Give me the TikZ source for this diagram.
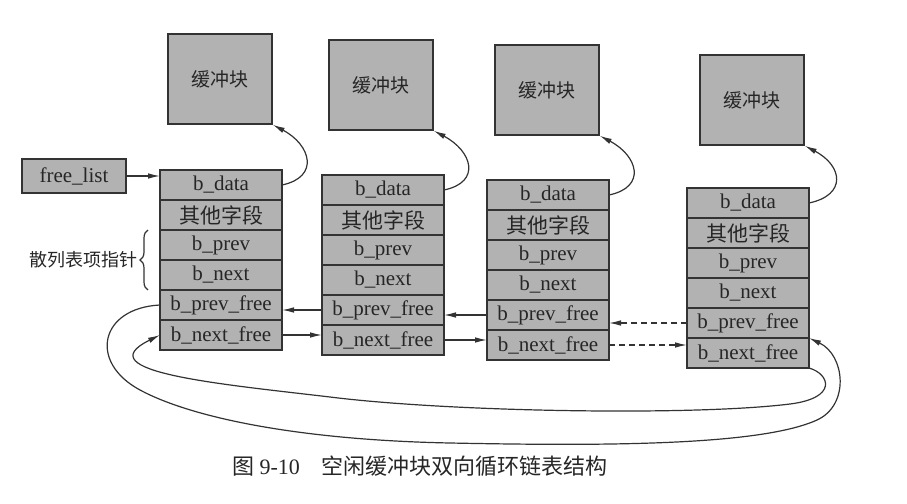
\documentclass[tikz,border=0pt]{standalone}
\usepackage{fontspec}
\setmainfont{Liberation Serif}
\newfontfamily\cjk{Noto Sans CJK SC}
\usetikzlibrary{positioning,arrows.meta,decorations.pathreplacing}

\begin{document}
\begin{tikzpicture}[x=0.5pt,y=-0.5pt,>={Latex[length=6pt,width=2.8pt]},
    line width=0.6pt,draw=black!80,text=black!85,
    field/.style={rectangle,draw,fill=black!30,line width=0.8pt,minimum width=61pt,
      minimum height=15pt,inner sep=0pt,outer sep=0pt,font=\fontsize{10.5}{12}\selectfont},
    buffer/.style={rectangle,draw,fill=black!30,line width=0.8pt,minimum width=52pt,
      minimum height=45pt,font=\cjk\fontsize{9.5}{11}\selectfont},
    listhead/.style={rectangle,draw,fill=black!30,line width=0.8pt,minimum width=52pt,
      minimum height=17pt,inner sep=0pt,font=\fontsize{10.5}{12}\selectfont}]

\useasboundingbox (0,0) rectangle (907,504);

% buffer blocks
\foreach \n/\x/\y in {1/220/79,2/381/85,3/547/90,4/752/100}
  \node[buffer] (buf\n) at (\x,\y) {缓冲块};

% buffer headers
\foreach \n/\x/\y in {1/160/170,2/322/175,3/487/180,4/687/188} {
  \node[field,anchor=north west] (data\n) at (\x,\y) {b\_data};
  \node[field,below=0pt of data\n] (other\n) {\cjk 其他字段};
  \node[field,below=0pt of other\n] (prev\n) {b\_prev};
  \node[field,below=0pt of prev\n] (next\n) {b\_next};
  \node[field,below=0pt of next\n] (pfree\n) {b\_prev\_free};
  \node[field,below=0pt of pfree\n] (nfree\n) {b\_next\_free};
  \draw[->] (data\n.east) .. controls +(38,-8) and +(38,20) .. (buf\n.south east);
}

\node[listhead] (freelist) at (74,176) {free\_list};
\draw[->] (freelist.east) -- (freelist.east -| data1.west);

% hash pointers
\coordinate (bracetop) at ([xshift=-6pt]prev1.north west);
\coordinate (bracebot) at ([xshift=-6pt]next1.south west);
\draw[decorate,decoration={brace,amplitude=4pt}] (bracebot) -- (bracetop);
\node[left=11pt of next1.north west,inner sep=0pt,font=\cjk\fontsize{9}{11}\selectfont] (hashlbl) {散列表项指针};

% free list links
\draw[->] (pfree2.west) -- (pfree2.west -| pfree1.east);
\draw[->] (pfree3.west) -- (pfree3.west -| pfree2.east);
\draw[->,dash pattern=on 3pt off 2pt] (pfree4.west) -- (pfree4.west -| pfree3.east);
\draw[->] (nfree1.east) -- (nfree1.east -| nfree2.west);
\draw[->] (nfree2.east) -- (nfree2.east -| nfree3.west);
\draw[->,dash pattern=on 3pt off 2pt] (nfree3.east) -- (nfree3.east -| nfree4.west);

% wrap-around links
\draw[->] (pfree1.west) .. controls (100,308) and (88,362) .. (140,390)
  .. controls (192,418) and (300,440) .. (450,443)
  .. controls (600,446) and (760,446) .. (817,420)
  .. controls (850,405) and (845,355) .. (pfree4.south east);
\draw[->] (nfree4.south east) .. controls (830,374) and (838,398) .. (790,404)
  .. controls (694,416) and (450,412) .. (330,397)
  .. controls (220,384) and (85,372) .. (nfree1.west);

\node[font=\fontsize{11}{13}\selectfont] (caption) at (420,466)
  {{\cjk 图} 9-10\quad{\cjk 空闲缓冲块双向循环链表结构}};
\end{tikzpicture}
\end{document}
